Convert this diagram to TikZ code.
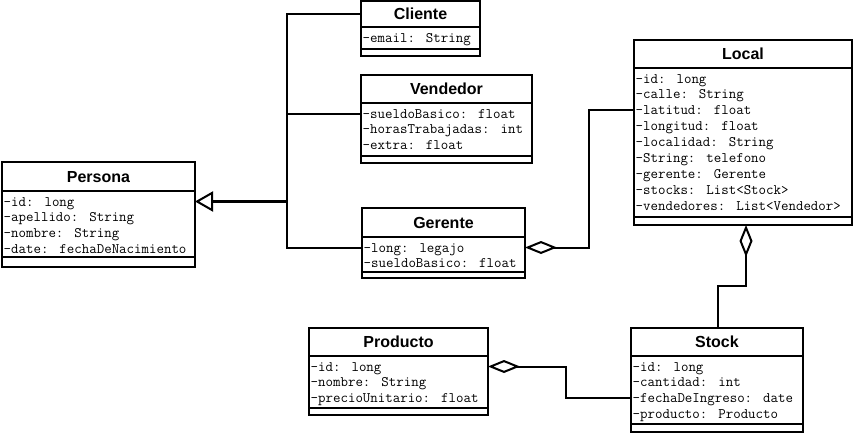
\documentclass[tikz,border=0pt]{standalone}
\usepackage{fontspec}
\usetikzlibrary{arrows.meta}
\newfontfamily\ttlfont{Liberation Sans}
\nonfrenchspacing
\tikzset{
  clsbox/.style={draw, line width=2pt, inner sep=0pt, outer sep=0pt, fill=white, anchor=north west},
  ttl/.style={inner sep=0pt, font=\ttlfont\bfseries\fontsize{16pt}{18pt}\selectfont, text height=11.5pt, text depth=0pt},
  attr/.style={inner sep=0pt, anchor=west, font={\ttfamily\fontsize{14.5pt}{16pt}\selectfont\xspaceskip=11pt\relax}, text height=10pt, text depth=1pt},
  sepline/.style={line width=2pt},
  conn/.style={line width=2pt},
  gen/.style={line width=3pt, -{Triangle[open, length=18pt, width=20pt, line width=2pt]}},
  agg/.style={line width=2pt, {Diamond[open, length=32pt, width=13pt, line width=2pt]}-},
}
% #1 name, #2 x1, #3 y1, #4 x2, #5 y2, #6 header y, #7 attr bottom y, #8 title, #9 attributes
\newcommand{\umlcls}[9]{%
  \node[clsbox, minimum width={#4pt-#2pt}, minimum height={#5pt-#3pt}] (#1) at (#2,#3) {};
  \draw[sepline] (#2,#6) -- (#4,#6);
  \draw[sepline] (#2,#7) -- (#4,#7);
  \node[ttl] (#1t) at ({(#2+#4)/2},{(#3+#6)/2}) {#8};
  \foreach \t [count=\i] in {#9} {
    \node[attr] (#1a\i) at ({#2+1.5},{#6+10.5+15.9*(\i-1)}) {\t};
  }
}
\begin{document}
\begin{tikzpicture}[x=1pt,y=-1pt]
\useasboundingbox (0,0) rectangle (854,434);
\fill[white] (0,0) rectangle (854,434);

\umlcls{persona}{2}{162}{195}{267}{191}{257}{Persona}{-id: long,-apellido: String,-nombre: String,-date: fechaDeNacimiento}
\umlcls{cliente}{361}{1}{480}{56}{27}{49}{Cliente}{-email: String}
\umlcls{vendedor}{361}{75}{532}{163}{103}{156}{Vendedor}{-sueldoBasico: float,-horasTrabajadas: int,-extra: float}
\umlcls{gerente}{362}{208}{525}{278}{237}{272}{Gerente}{-long: legajo,-sueldoBasico: float}
\umlcls{local}{634}{40}{852}{225}{68}{217}{Local}{-id: long,-calle: String,-latitud: float,-longitud: float,-localidad: String,-String: telefono,-gerente: Gerente,-stocks: List<Stock>,-vendedores: List<Vendedor>}
\umlcls{producto}{309}{328}{488}{415}{356}{408}{Producto}{-id: long,-nombre: String,-precioUnitario: float}
\umlcls{stock}{631}{328}{803}{432}{356}{424}{Stock}{-id: long,-cantidad: int,-fechaDeIngreso: date,-producto: Producto}

% generalization bus
\coordinate (bus) at (287,0);
\draw[conn] (cliente.west |- clientet) -- (bus |- clientet) -- (bus |- gerentea1) -- (gerente.west |- gerentea1);
\draw[conn] (bus |- vendedora1) -- (vendedor.west |- vendedora1);
\draw[gen] (bus |- personaa1) -- (persona.east |- personaa1);

% Gerente - Local aggregation
\coordinate (gl) at (589,0);
\draw[agg] (gerente.east |- gerentea1) -- (gl |- gerentea1) -- (gl |- locala3) -- (local.west |- locala3);

% Local - Stock aggregation
\coordinate (ls) at (746,286);
\coordinate (ss) at (718,286);
\draw[agg] (local.south -| ls) -- (ls) -- (ss) -- (stock.north -| ss);

% Producto - Stock aggregation
\coordinate (ps) at (566,0);
\draw[agg] (producto.east |- productoa1) -- (ps |- productoa1) -- (ps |- stocka3) -- (stock.west |- stocka3);
\end{tikzpicture}
\end{document}
